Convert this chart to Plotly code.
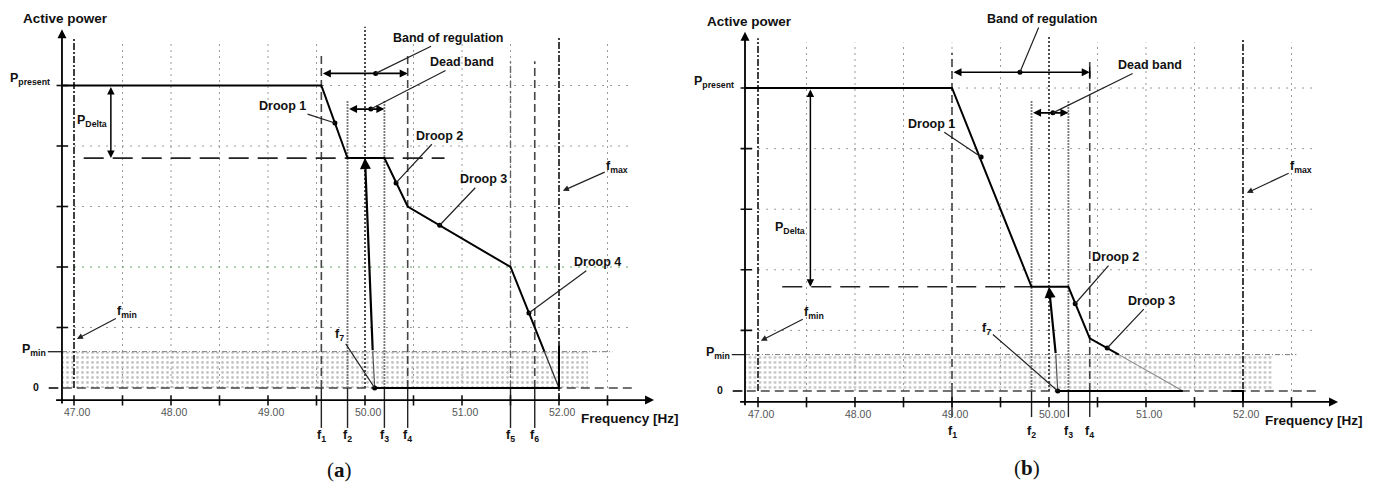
import plotly.graph_objects as go

# ---------------- data (frequency in Hz, power in relative units) ----------------
TICK_FREQS = [47.0, 48.0, 49.0, 50.0, 51.0, 52.0]
TICK_LABELS = ["47.00", "48.00", "49.00", "50.00", "51.00", "52.00"]
HALF_FREQS = [47.0, 47.5, 48.0, 48.5, 49.0, 49.5, 50.0, 50.5, 51.0, 51.5, 52.0, 52.5]
GRID_FREQS = [47.5, 48.0, 48.5, 49.0, 49.5, 50.5, 51.0, 51.5, 52.5]
GRID_POWERS = [1, 2, 3, 4, 5]
F_MIN = 47.0
F_NOM = 50.0
F_MAX = 52.0
P_PRESENT = 5.0
P_MIN = 0.6

# panel (a)
A_MARK_F = [49.55, 49.82, 50.20, 50.44, 51.50, 51.75]
A_MARK_NAMES = ["f<sub>1</sub>", "f<sub>2</sub>", "f<sub>3</sub>", "f<sub>4</sub>", "f<sub>5</sub>", "f<sub>6</sub>"]
A_CURVE_F = [46.876, 49.55, 49.82, 50.20, 50.44, 51.50, 51.85]
A_CURVE_P = [5.0, 5.0, 3.8, 3.8, 3.0, 2.0, 0.6]
A_TAIL_F = [51.85, 52.0]
A_TAIL_P = [0.6, 0.0]
A_BOTTOM_F = [50.10, 52.0, 52.0]
A_BOTTOM_P = [0.0, 0.0, 0.7]
A_RISE_F = [50.10, 50.08, 50.00]
A_RISE_P = [0.0, 0.6, 3.8]
A_P_DELTA = 3.8

# panel (b)
B_MARK_F = [49.00, 49.82, 50.20, 50.42]
B_MARK_NAMES = ["f<sub>1</sub>", "f<sub>2</sub>", "f<sub>3</sub>", "f<sub>4</sub>"]
B_CURVE_F = [46.866, 49.00, 49.82, 50.20, 50.42, 50.72]
B_CURVE_P = [5.0, 5.0, 1.72, 1.72, 0.87, 0.6]
B_TAIL_F = [50.72, 51.38]
B_TAIL_P = [0.6, 0.0]
B_BOTTOM_F = [50.09, 51.38]
B_BOTTOM_P = [0.0, 0.0]
B_STEP_F = [51.88, 52.0, 52.0]
B_STEP_P = [0.0, 0.0, -0.18]
B_RISE_F = [50.09, 50.07, 50.00]
B_RISE_P = [0.0, 0.6, 1.72]
B_P_DELTA = 1.72

FONT = "Liberation Sans, Arial, sans-serif"
traces = []
anns = []


def seglines(xa, ya, segs, color, width, dash="solid"):
    xs, ys = [], []
    for x0, y0, x1, y1 in segs:
        xs += [x0, x1, None]
        ys += [y0, y1, None]
    traces.append(go.Scatter(x=xs, y=ys, xaxis=xa, yaxis=ya, mode="lines",
                             line=dict(color=color, width=width, dash=dash),
                             hoverinfo="skip", showlegend=False))


def path(xa, ya, xs, ys, color="black", width=2, dash="solid"):
    traces.append(go.Scatter(x=xs, y=ys, xaxis=xa, yaxis=ya, mode="lines",
                             line=dict(color=color, width=width, dash=dash),
                             hoverinfo="skip", showlegend=False))


def dots(xa, ya, xs, ys):
    traces.append(go.Scatter(x=xs, y=ys, xaxis=xa, yaxis=ya, mode="markers",
                             marker=dict(color="black", size=5),
                             hoverinfo="skip", showlegend=False))


def arrow(xr, yr, x0, y0, x1, y1, both=False, width=1.5, color="black"):
    anns.append(dict(x=x1, y=y1, ax=x0, ay=y0, xref=xr, yref=yr, axref=xr, ayref=yr,
                     text="", showarrow=True, arrowhead=2, startarrowhead=2,
                     arrowsize=1, startarrowsize=1, arrowwidth=width, arrowcolor=color,
                     arrowside="end+start" if both else "end"))


def text(xr, yr, x, y, t, size=12, bold=True, xanchor="center", color="#111", family=FONT):
    anns.append(dict(x=x, y=y, xref=xr, yref=yr, text=("<b>%s</b>" % t) if bold else t,
                     showarrow=False, xanchor=xanchor, yanchor="middle",
                     font=dict(family=family, size=size, color=color)))


def leader(xr, yr, tx, ty, px, py, t, head=0, size=12.5):
    anns.append(dict(x=px, y=py, ax=tx, ay=ty, xref=xr, yref=yr, axref=xr, ayref=yr,
                     text="<b>%s</b>" % t, showarrow=True, arrowhead=head, arrowsize=1,
                     arrowwidth=1.2, arrowcolor="#222", standoff=0,
                     font=dict(family=FONT, size=size, color="#111")))


def panel(xa, ya, ax_x, ax_p, mark_f, mark_names, mark_tops, mark_styles, mark_bot, mark_lab_y,
          tick_lab_y, green_row, fmin_top, fmax_top, nom_top):
    xr, yr = xa, ya
    # hatched Pmin region
    traces.append(go.Scatter(x=[ax_x, 52.3, 52.3, ax_x, ax_x], y=[0, 0, P_MIN, P_MIN, 0],
                             xaxis=xa, yaxis=ya, mode="lines", fill="toself",
                             fillcolor="rgba(0,0,0,0)", line=dict(width=0),
                             fillpattern=dict(shape=".", fgcolor="#8a8a8a", bgcolor="white",
                                              size=5, solidity=0.25),
                             hoverinfo="skip", showlegend=False))
    # grid
    seglines(xa, ya, [(f, 0, f, 5.75) for f in GRID_FREQS], "#9a9a9a", 1, "2px,4px")
    rows = [p for p in GRID_POWERS if p != green_row]
    seglines(xa, ya, [(F_MIN, p, 52.72, p) for p in rows], "#9a9a9a", 1, "2px,6px")
    if green_row is not None:
        seglines(xa, ya, [(F_MIN, green_row, 52.72, green_row)], "#5aa85a", 1.2, "2px,6px")
    seglines(xa, ya, [(F_NOM, 0, F_NOM, nom_top)], "#222", 1.6, "2px,2px")
    # Pmin and zero lines
    seglines(xa, ya, [(46.73, P_MIN, ax_x, P_MIN)], "#222", 1.3)
    seglines(xa, ya, [(ax_x, P_MIN, 52.55, P_MIN)], "#777", 1, "5px,2px,1px,2px")
    seglines(xa, ya, [(46.74, 0, 52.76, 0)], "#444", 1.5, "9px,5px")
    # fmin / fmax
    seglines(xa, ya, [(F_MIN, 0, F_MIN, fmin_top), (F_MAX, ax_p, F_MAX, fmax_top)],
             "#111", 1.6, "7px,2px,2px,2px")
    # f markers
    for f, top, st in zip(mark_f, mark_tops, mark_styles):
        if st == "dash":
            seglines(xa, ya, [(f, 0, f, top)], "#444", 1.6, "8px,4px")
        elif st == "dot":
            seglines(xa, ya, [(f, 0, f, top)], "#777", 1.8, "2px,1px")
        else:
            seglines(xa, ya, [(f, 0, f, top)], "#666", 1.4, "7px,3px,2px,3px")
    seglines(xa, ya, [(f, 0, f, mark_bot) for f in mark_f], "#222", 1.4)
    for f, n in zip(mark_f, mark_names):
        text(xr, yr, f, mark_lab_y, n, size=12.5)
    # axes
    arrow(xr, yr, 46.80, ax_p, 52.98, ax_p, width=1.8)
    arrow(xr, yr, ax_x, ax_p - 0.08, ax_x, 5.93, width=1.8)
    seglines(xa, ya, [(f, ax_p + 0.08, f, ax_p - 0.09) for f in HALF_FREQS], "#111", 1.6)
    seglines(xa, ya, [(46.82, p, 46.94, p) for p in GRID_POWERS], "#111", 1.6)
    seglines(xa, ya, [(46.74, 0, 46.84, 0)], "#222", 1.3)
    for f, lab in zip(TICK_FREQS, TICK_LABELS):
        text(xr, yr, f + 0.03, tick_lab_y, lab, size=10.5, bold=False, color="#555")
    # axis labels
    text(xr, yr, 46.91, 6.1, "Active power", size=13.5)
    text(xr, yr, 52.73, ax_p - 0.31, "Frequency [Hz]", size=13.5)
    text(xr, yr, 46.77, 5.1, "P<sub>present</sub>", size=12.5, xanchor="right")
    text(xr, yr, 46.73, P_MIN + 0.02, "P<sub>min</sub>", size=12.5, xanchor="right")
    text(xr, yr, 46.66, 0.02, "0", size=10.5, xanchor="right")


# ---------------- panel (a) ----------------
XA, YA = "x", "y"
panel(XA, YA, 46.876, -0.2, A_MARK_F, A_MARK_NAMES,
      [5.55, 4.76, 4.76, 5.55, 5.40, 5.40], ["dash", "dot", "dot", "dash", "dashdot", "dash"],
      -0.66, -0.80, -0.40, 2, 5.8, 5.8, 5.97)
seglines(XA, YA, [(47.10, A_P_DELTA, 50.82, A_P_DELTA)], "#222", 1.6, "20px,9px")
path(XA, YA, A_CURVE_F, A_CURVE_P)
path(XA, YA, A_TAIL_F, A_TAIL_P, "#333", 1.3)
path(XA, YA, A_BOTTOM_F, A_BOTTOM_P)
path(XA, YA, A_RISE_F[:2], A_RISE_P[:2], "#555", 1.2)
arrow(XA, YA, A_RISE_F[1], A_RISE_P[1], A_RISE_F[2], A_RISE_P[2], width=2.2)
arrow(XA, YA, 47.38, P_PRESENT, 47.38, A_P_DELTA, both=True, width=1.5)
arrow(XA, YA, A_MARK_F[0], 5.2, A_MARK_F[3], 5.2, both=True, width=1.6)
arrow(XA, YA, A_MARK_F[1], 4.61, A_MARK_F[2], 4.61, both=True, width=1.6)
dots(XA, YA, [50.11, 50.06, 49.69, 50.32, 50.77, 51.69, 50.10],
     [5.2, 4.61, 4.38, 3.39, 2.69, 1.24, 0.0])
leader("x", "y", 50.86, 5.79, 50.11, 5.2, "Band of regulation")
leader("x", "y", 51.00, 5.39, 50.06, 4.61, "Dead band")
leader("x", "y", 49.15, 4.66, 49.69, 4.38, "Droop 1")
leader("x", "y", 50.77, 4.17, 50.32, 3.39, "Droop 2")
leader("x", "y", 51.22, 3.45, 50.77, 2.69, "Droop 3")
leader("x", "y", 52.40, 2.08, 51.69, 1.24, "Droop 4")
leader("x", "y", 52.60, 3.66, 52.04, 3.26, "f<sub>max</sub>", head=2)
leader("x", "y", 47.55, 1.25, 47.03, 0.81, "f<sub>min</sub>", head=2)
leader("x", "y", 49.74, 0.88, 50.10, 0.0, "f<sub>7</sub>")
text("x", "y", 47.19, 4.41, "P<sub>Delta</sub>", size=12.5)
text("x", "y", 49.74, -1.36, "(<b>a</b>)", size=21, bold=False, family="Liberation Serif, serif")

# ---------------- panel (b) ----------------
XB, YB = "x2", "y2"
panel(XB, YB, 46.866, -0.18, B_MARK_F, B_MARK_NAMES,
      [5.58, 4.80, 4.80, 5.43], ["dash", "dot", "dot", "dash"],
      -0.43, -0.68, -0.38, None, 5.82, 5.8, 5.87)
seglines(XB, YB, [(47.25, B_P_DELTA, B_MARK_F[1], B_P_DELTA)], "#222", 1.6, "20px,9px")
path(XB, YB, B_CURVE_F, B_CURVE_P)
path(XB, YB, B_TAIL_F, B_TAIL_P, "#888", 1.1)
path(XB, YB, B_BOTTOM_F, B_BOTTOM_P)
path(XB, YB, B_STEP_F, B_STEP_P)
path(XB, YB, B_RISE_F[:2], B_RISE_P[:2], "#555", 1.2)
arrow(XB, YB, B_RISE_F[1], B_RISE_P[1], B_RISE_F[2], B_RISE_P[2], width=2.2)
arrow(XB, YB, 47.54, P_PRESENT, 47.54, B_P_DELTA, both=True, width=1.5)
arrow(XB, YB, B_MARK_F[0], 5.26, B_MARK_F[3], 5.26, both=True, width=1.6)
arrow(XB, YB, B_MARK_F[1], 4.59, B_MARK_F[2], 4.59, both=True, width=1.6)
seglines(XB, YB, [(B_MARK_F[3], 5.17, B_MARK_F[3], 5.35)], "black", 1.6)
dots(XB, YB, [49.70, 50.04, 49.30, 50.27, 50.60, 50.09],
     [5.26, 4.59, 3.86, 1.44, 0.71, 0.0])
leader("x2", "y2", 49.93, 6.14, 49.70, 5.26, "Band of regulation")
leader("x2", "y2", 51.04, 5.38, 50.04, 4.59, "Dead band")
leader("x2", "y2", 48.79, 4.41, 49.30, 3.86, "Droop 1")
leader("x2", "y2", 50.69, 2.21, 50.27, 1.44, "Droop 2")
leader("x2", "y2", 51.06, 1.49, 50.60, 0.71, "Droop 3")
leader("x2", "y2", 52.60, 3.69, 52.04, 3.27, "f<sub>max</sub>", head=2)
leader("x2", "y2", 47.58, 1.28, 47.03, 0.83, "f<sub>min</sub>", head=2)
leader("x2", "y2", 49.36, 1.02, 50.09, 0.0, "f<sub>7</sub>")
text("x2", "y2", 47.33, 2.69, "P<sub>Delta</sub>", size=12.5)
text("x2", "y2", 49.77, -1.27, "(<b>b</b>)", size=21, bold=False, family="Liberation Serif, serif")

fig = go.Figure(traces)
ax_common = dict(visible=False, showgrid=False, zeroline=False, fixedrange=True)
fig.update_layout(
    width=1375, height=492, autosize=False,
    margin=dict(l=0, r=0, t=0, b=0, pad=0),
    paper_bgcolor="white", plot_bgcolor="white",
    showlegend=False,
    xaxis=dict(domain=[0, 0.5], range=[47 - 74 / 97, 47 + 613.5 / 97], **ax_common),
    yaxis=dict(domain=[0, 1], range=[-(492 - 388) / 60.5, 388 / 60.5], **ax_common),
    xaxis2=dict(domain=[0.5, 1], range=[47 - 70.5 / 97, 47 + 617 / 97], **ax_common),
    yaxis2=dict(domain=[0, 1], anchor="x2", range=[-(492 - 391) / 60.6, 391 / 60.6], **ax_common),
    annotations=anns,
    font=dict(family=FONT),
)
fig.write_html("out.html", config={"displayModeBar": False},
               post_script="document.body.style.margin='0';")
